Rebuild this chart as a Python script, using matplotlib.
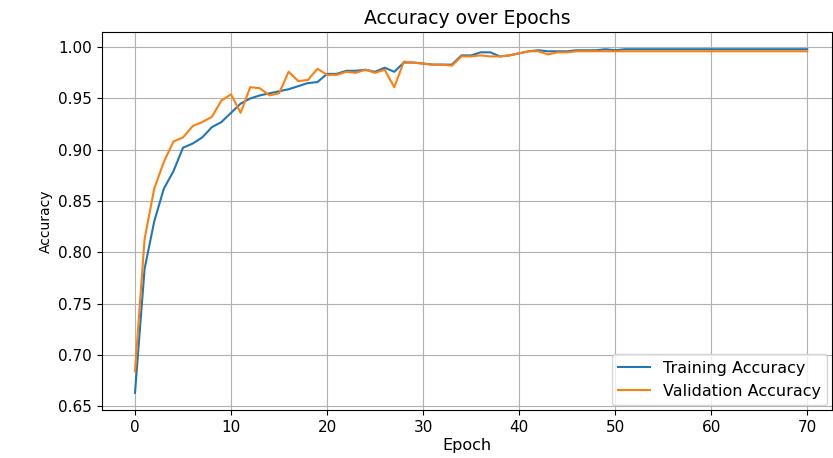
import matplotlib.pyplot as plt
import numpy as np

# accuracy per epoch
train_acc = [0.663, 0.784, 0.830, 0.862, 0.879, 0.902, 0.906, 0.912, 0.922, 0.927,
             0.936, 0.945, 0.950, 0.953, 0.955, 0.957, 0.959, 0.962, 0.965, 0.966,
             0.974, 0.974, 0.977, 0.977, 0.978, 0.976, 0.980, 0.976, 0.985, 0.985,
             0.984, 0.983, 0.983, 0.983, 0.992, 0.992, 0.995, 0.995, 0.991, 0.992,
             0.994, 0.996, 0.997, 0.996, 0.996, 0.996, 0.997, 0.997, 0.997, 0.998,
             0.997, 0.998, 0.998, 0.998, 0.998, 0.998, 0.998, 0.998, 0.998, 0.998,
             0.998, 0.998, 0.998, 0.998, 0.998, 0.998, 0.998, 0.998, 0.998, 0.998,
             0.998]
val_acc = [0.684, 0.813, 0.862, 0.888, 0.908, 0.912, 0.923, 0.927, 0.932, 0.948,
           0.954, 0.936, 0.961, 0.960, 0.953, 0.955, 0.976, 0.967, 0.968, 0.979,
           0.973, 0.973, 0.976, 0.975, 0.978, 0.975, 0.978, 0.961, 0.986, 0.985,
           0.984, 0.983, 0.983, 0.982, 0.991, 0.991, 0.992, 0.991, 0.991, 0.992,
           0.994, 0.996, 0.996, 0.993, 0.995, 0.995, 0.996, 0.996, 0.996, 0.996,
           0.996, 0.996, 0.996, 0.996, 0.996, 0.996, 0.996, 0.996, 0.996, 0.996,
           0.996, 0.996, 0.996, 0.996, 0.996, 0.996, 0.996, 0.996, 0.996, 0.996,
           0.996]
epochs = np.arange(len(train_acc))

fig = plt.figure(figsize=(8.33, 4.58), dpi=100)
ax = fig.add_axes([0.1224, 0.1048, 0.8766, 0.8252])

ax.plot(epochs, train_acc, label='Training Accuracy')
ax.plot(epochs, val_acc, label='Validation Accuracy')
ax.set_xlim(-3.44, 72.6)
ax.set_title('Accuracy over Epochs', fontsize=13.5)
ax.set_xlabel('Epoch', fontsize=11.5, labelpad=2)
ax.set_ylabel('Accuracy', fontsize=10)
ax.tick_params(labelsize=11)
ax.legend(loc='lower right', fontsize=11.5, borderaxespad=0.3)
ax.grid(True)

fig.savefig('out.png', dpi=100)
